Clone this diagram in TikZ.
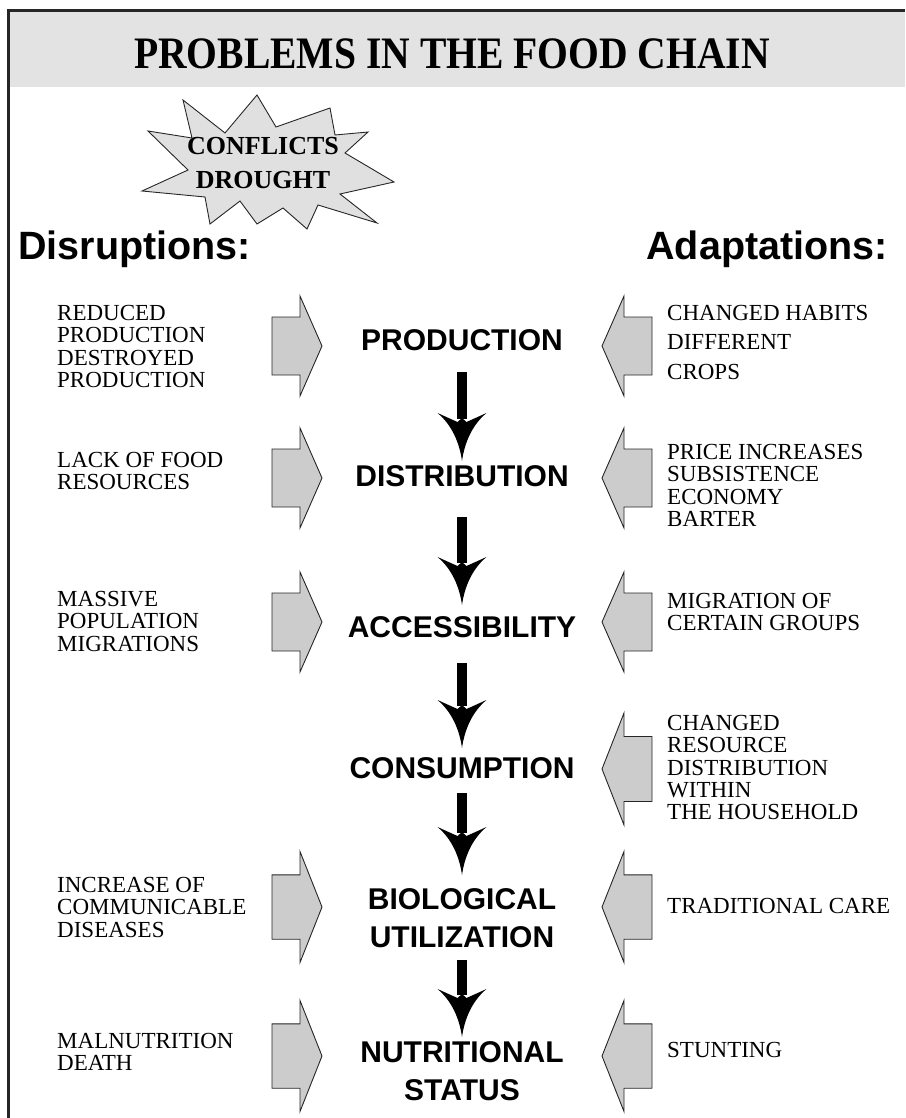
\documentclass[tikz,border=0pt]{standalone}
\usepackage{fontspec}
\setmainfont{Liberation Serif}
\setsansfont{Liberation Sans}
\newfontfamily\titlefont[FakeStretch=0.88]{Liberation Serif}
\usetikzlibrary{arrows.meta}

% Dart-shaped arrow head with hollow-curved flanks for the stage chain
\pgfdeclarearrow{
  name = Dart,
  setup code = {
    \pgfarrowssettipend{0pt}
    \pgfarrowssetbackend{-48pt}
    \pgfarrowssetlineend{-42pt}
    \pgfarrowsupperhullpoint{0pt}{0pt}
    \pgfarrowsupperhullpoint{-48pt}{24.5pt}
  },
  drawing code = {
    \pgfpathmoveto{\pgfqpoint{0pt}{0pt}}
    \pgfpathcurveto{\pgfqpoint{-18pt}{2.5pt}}{\pgfqpoint{-36pt}{10pt}}{\pgfqpoint{-48pt}{24.5pt}}
    \pgfpathlineto{\pgfqpoint{-39pt}{4.5pt}}
    \pgfpathlineto{\pgfqpoint{-43pt}{0pt}}
    \pgfpathlineto{\pgfqpoint{-39pt}{-4.5pt}}
    \pgfpathlineto{\pgfqpoint{-48pt}{-24.5pt}}
    \pgfpathcurveto{\pgfqpoint{-36pt}{-10pt}}{\pgfqpoint{-18pt}{-2.5pt}}{\pgfqpoint{0pt}{0pt}}
    \pgfpathclose
    \pgfusepathqfill
  }
}

\definecolor{band}{gray}{0.89}
\definecolor{starfill}{gray}{0.88}
\definecolor{blockfill}{gray}{0.80}
\definecolor{inkline}{gray}{0.15}

\tikzset{
  title/.style={font=\titlefont\bfseries\fontsize{45}{45}\selectfont, inner sep=0pt},
  header/.style={font=\sffamily\bfseries\fontsize{39.5}{40}\selectfont, inner sep=0pt},
  stage/.style={font=\sffamily\bfseries\fontsize{30}{38.5}\selectfont, align=center, inner sep=0pt},
  note/.style={font=\fontsize{23}{22.3}\selectfont, align=left, anchor=north west, inner sep=0pt},
  widenote/.style={note, font=\fontsize{23}{29.5}\selectfont},
  startext/.style={font=\bfseries\fontsize{26}{34}\selectfont, align=center, inner sep=0pt},
  chain/.style={line width=10.7pt, draw=black, -{Dart}},
  blockarrow/.style={fill=blockfill, draw=inkline, line width=0.9pt, line join=miter},
  pushright/.pic={\path[blockarrow] (-50,-29) -- (-22,-29) -- (-22,-50) -- (0,0) -- (-22,50) -- (-22,29) -- (-50,29) -- cycle;},
  pushleft/.pic={\path[blockarrow] (50,-29) -- (22,-29) -- (22,-50) -- (0,0) -- (22,50) -- (22,29) -- (50,29) -- cycle;}
}

\begin{document}
\begin{tikzpicture}[x=1pt,y=-1pt]
\useasboundingbox (0,0) rectangle (905,1118);

% title band and frame
\fill[band] (10.3,11.8) rectangle (905,87);
\draw[line width=3pt, draw=inkline] (8.8,1118) -- (8.8,10.3) -- (905,10.3);
\node[title] (title) at (452,54) {PROBLEMS IN THE FOOD CHAIN};

% burst with the triggering events
\filldraw[fill=starfill, draw=inkline, line width=0.9pt, line join=miter]
  (183,100) -- (225,133) -- (257,95) -- (276,127) -- (330,108) -- (335,135)
  -- (368,132) -- (345,153) -- (394,182) -- (340,194) -- (377,223) -- (318,205)
  -- (307,229) -- (283,208) -- (257,224) -- (240,201) -- (210,224) -- (205,197)
  -- (142,191) -- (188,170) -- (148,131) -- (192,138) -- cycle;
\node[startext] (events) at (263,163) {CONFLICTS\\DROUGHT};

% column headers
\node[header, anchor=base west] (disr) at (18,259) {Disruptions:};
\node[header, anchor=base east] (adap) at (888,259) {Adaptations:};

% stages of the food chain
\node[stage] (prod)    at (462,340)  {PRODUCTION};
\node[stage] (dist)    at (462,476)  {DISTRIBUTION};
\node[stage] (access)  at (462,627)  {ACCESSIBILITY};
\node[stage] (consump) at (462,768)  {CONSUMPTION};
\node[stage] (bio)     at (462,918)  {BIOLOGICAL\\UTILIZATION};
\node[stage] (nutr)    at (462,1071) {NUTRITIONAL\\STATUS};

\draw[chain, shorten <=32pt, shorten >=15pt] (prod.center) -- (dist.center);
\draw[chain, shorten <=41pt, shorten >=22pt] (dist.center) -- (access.center);
\draw[chain, shorten <=36pt, shorten >=20pt] (access.center) -- (consump.center);
\draw[chain, shorten <=25pt, shorten >=43pt] (consump.center) -- (bio.center);
\draw[chain, shorten <=42pt, shorten >=34pt] (bio.center) -- (nutr.center);

% disruptions pushing in from the left
\pic at (322,346) {pushright};
\pic at (322,478) {pushright};
\pic at (322,622) {pushright};
\pic[yscale=1.11] at (322,907) {pushright};
\pic[yscale=1.11] at (322,1056) {pushright};

\node[note] (d1) at (57,305) {REDUCED\\PRODUCTION\\DESTROYED\\PRODUCTION};
\node[note] (d2) at (57,452) {LACK OF FOOD\\RESOURCES};
\node[note] (d3) at (57,591) {MASSIVE\\POPULATION\\MIGRATIONS};
\node[note] (d5) at (57,877) {INCREASE OF\\COMMUNICABLE\\DISEASES};
\node[note] (d6) at (57,1033) {MALNUTRITION\\DEATH};

% adaptations pushing in from the right
\pic at (602,346) {pushleft};
\pic at (602,478) {pushleft};
\pic at (602,622) {pushleft};
\pic[yscale=1.12] at (602,769) {pushleft};
\pic[yscale=1.11] at (602,907) {pushleft};
\pic[yscale=1.11] at (602,1056) {pushleft};

\node[widenote] (a1) at (667,305) {CHANGED HABITS\\DIFFERENT\\CROPS};
\node[note] (a2) at (667,444) {PRICE INCREASES\\SUBSISTENCE\\ECONOMY\\BARTER};
\node[note] (a3) at (667,593) {MIGRATION OF\\CERTAIN GROUPS};
\node[note] (a4) at (667,715) {CHANGED\\RESOURCE\\DISTRIBUTION\\WITHIN\\THE HOUSEHOLD};
\node[note] (a5) at (667,898) {TRADITIONAL CARE};
\node[note] (a6) at (667,1042) {STUNTING};
\end{tikzpicture}
\end{document}
